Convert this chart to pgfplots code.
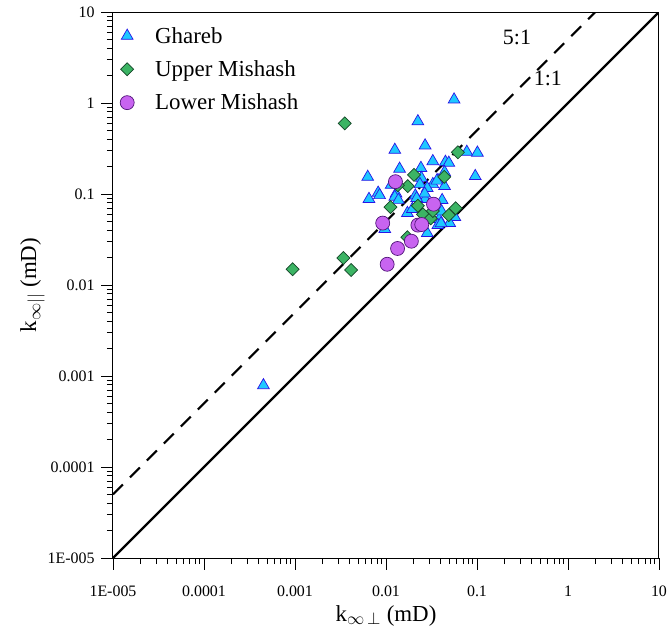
\documentclass[border=0pt]{standalone}
\usepackage{pgfplots}
\pgfplotsset{compat=1.18}
\usepackage{fontspec}
\setmainfont{Liberation Serif}
\definecolor{tri}{RGB}{30,200,255}
\definecolor{triedge}{RGB}{40,20,230}
\definecolor{dia}{RGB}{60,180,100}
\definecolor{diaedge}{RGB}{20,70,40}
\definecolor{cir}{RGB}{200,100,240}
\definecolor{ciredge}{RGB}{80,20,120}
\begin{document}
\begin{tikzpicture}
\begin{axis}[
  scale only axis, width=546bp, height=546bp,
  xmode=log, ymode=log,
  xmin=1e-5, xmax=10, ymin=1e-5, ymax=10,
  xtick={1e-5,1e-4,1e-3,1e-2,1e-1,1,10},
  ytick={1e-5,1e-4,1e-3,1e-2,1e-1,1,10},
  xticklabels={1E-005,0.0001,0.001,0.01,0.1,1,10},
  yticklabels={1E-005,0.0001,0.001,0.01,0.1,1,10},
  tick align=outside, xtick pos=bottom, ytick pos=left,
  major tick length=12bp, minor tick length=6bp,
  tick style={black, line width=0.8bp},
  axis line style={line width=1bp},
  ticklabel style={font=\fontsize{16}{18}\selectfont},
  xticklabel style={yshift=-12bp},
  yticklabel style={xshift=-3bp},
  xlabel={k$_{\infty\,\perp}$ (mD)},
  ylabel={k$_{\infty||}$ (mD)},
  label style={font=\fontsize{23}{26}\selectfont},
  xlabel style={yshift=-2bp},
  ylabel style={yshift=-4bp},
  legend style={at={(0,1)}, anchor=north west, draw=none, fill=none,
    font=\fontsize{23}{26}\selectfont, row sep=12bp, xshift=4bp, yshift=-13bp,
    inner sep=0pt},
  legend cell align=left,
  legend image code/.code={\path[draw=none,fill=none] (0bp,-3bp) rectangle (36bp,3bp); \draw[#1] plot coordinates {(10bp,0bp)};},
]
\addplot[black, line width=2.2bp, forget plot] coordinates {(1e-5,1e-5) (10,10)};
\addplot[black, line width=2.2bp, dash pattern=on 14bp off 10bp, forget plot] coordinates {(1e-5,5e-5) (2,10)};
\addplot[only marks, mark=triangle*, mark size=6.8bp, mark options={fill=tri, draw=triedge, line width=0.7bp}] coordinates {
(0.056,1.09) (0.0224,0.628) (0.0269,0.341) (0.0125,0.305) (0.0773,0.290)
(0.101,0.284) (0.0327,0.229) (0.045,0.225) (0.049,0.220) (0.0141,0.189)
(0.0242,0.193) (0.044,0.174) (0.0063,0.154) (0.0957,0.157) (0.0245,0.150)
(0.0372,0.142) (0.0114,0.126) (0.0236,0.128) (0.0327,0.128) (0.044,0.122)
(0.0284,0.116) (0.0082,0.103) (0.0085,0.097) (0.0129,0.101) (0.021,0.096)
(0.0065,0.088) (0.0125,0.093) (0.0269,0.088) (0.0414,0.0855) (0.0172,0.0617)
(0.0195,0.0684) (0.0384,0.053) (0.0571,0.0557) (0.0501,0.0479) (0.0372,0.0455)
(0.0097,0.0411) (0.0284,0.0371) (0.00045,0.00079) (0.0266,0.101) (0.0217,0.090)
(0.0362,0.140) (0.0137,0.086) (0.0409,0.0643) (0.0403,0.0477)
};
\addlegendentry{Ghareb}
\addplot[only marks, mark=square*, mark size=4.6bp, mark options={rotate=45, fill=dia, draw=diaedge, line width=0.7bp}] coordinates {
(0.00352,0.597) (0.0617,0.287) (0.0203,0.162) (0.0437,0.154) (0.0173,0.122)
(0.0135,0.125) (0.0112,0.0719) (0.0224,0.0741) (0.0255,0.0598) (0.031,0.054)
(0.0327,0.065) (0.049,0.0587) (0.0583,0.0698) (0.0172,0.0335) (0.00341,0.0198)
(0.00414,0.0146) (0.00094,0.0149)
};
\addlegendentry{Upper Mishash}
\addplot[only marks, mark=*, mark size=7bp, mark options={fill=cir, draw=ciredge, line width=0.7bp}] coordinates {
(0.0127,0.1366) (0.0333,0.0773) (0.0092,0.0479) (0.0224,0.0455) (0.0247,0.0462)
(0.019,0.0303) (0.0134,0.0252) (0.0103,0.0169)
};
\addlegendentry{Lower Mishash}
\node[font=\fontsize{22}{26}\selectfont] at (axis cs:0.275,5.2) {5:1};
\node[font=\fontsize{22}{26}\selectfont] at (axis cs:0.6,1.88) {1:1};
\end{axis}
\pgfresetboundingbox
\path ([shift={(-113bp,-73bp)}]current axis.south west) rectangle ([shift={(9bp,12bp)}]current axis.north east);
\end{tikzpicture}
\end{document}
